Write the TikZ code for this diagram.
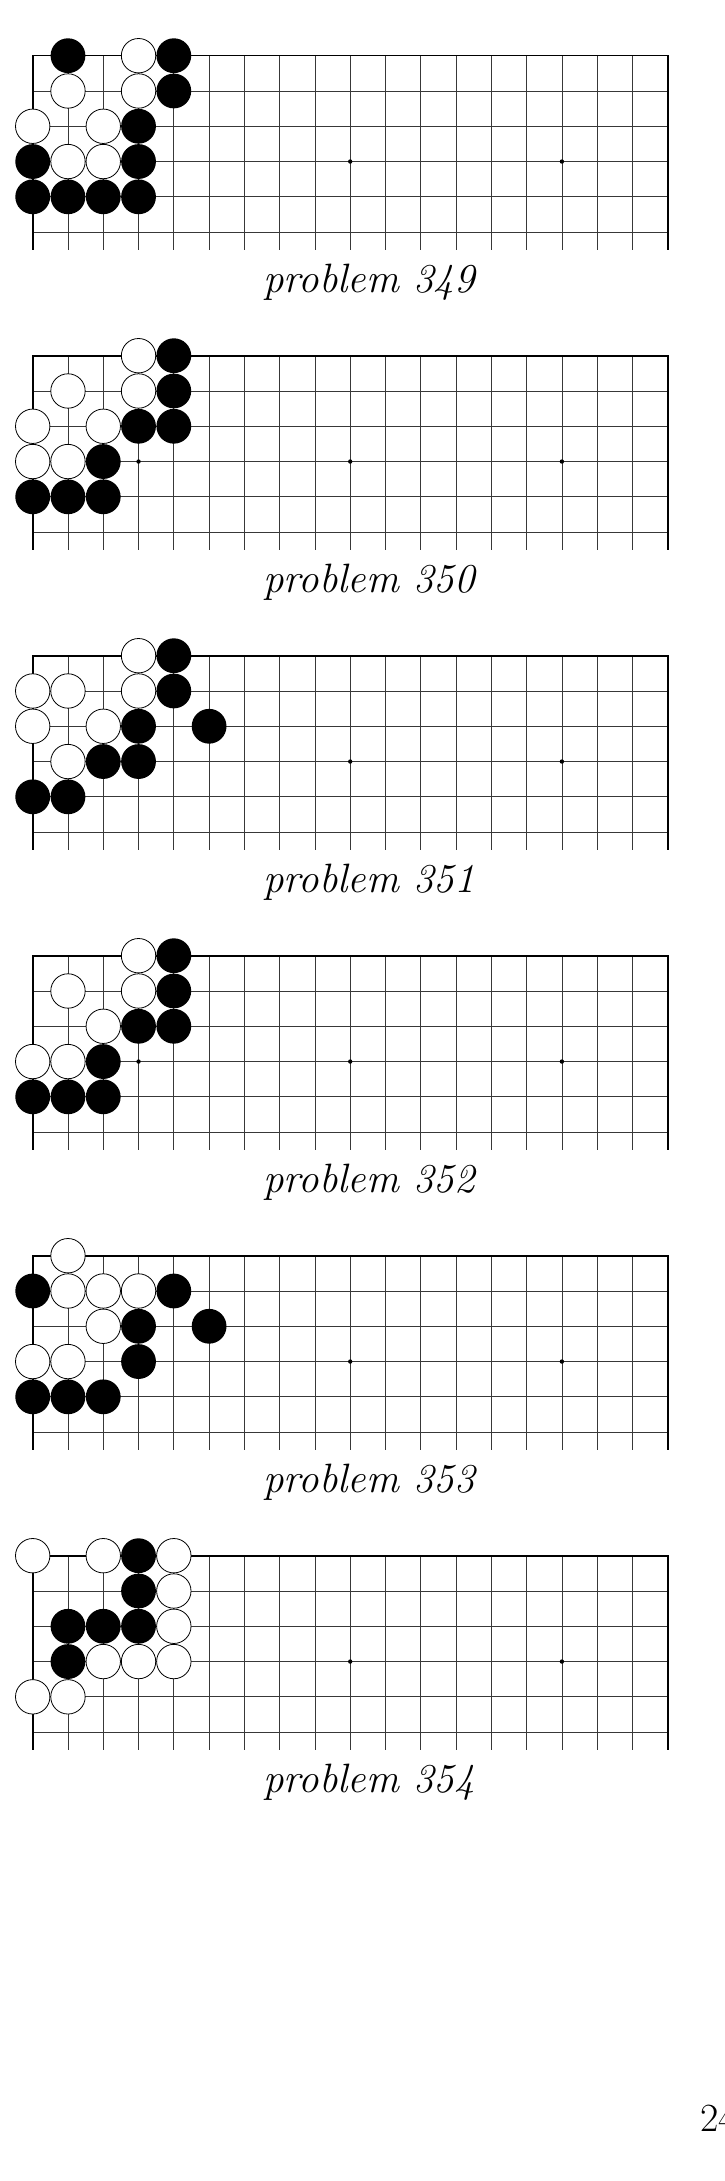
\documentclass[tikz,border=0pt]{standalone}
\tikzset{
  gridline/.style={line width=0.8pt, draw=black!78},
  edgeline/.style={line width=1.6pt, draw=black, line join=miter},
  bstone/.style={fill=black},
  wstone/.style={fill=white, draw=black, line width=0.8pt},
  stardot/.style={fill=black},
  caption/.style={font=\fontsize{41}{48}\selectfont\itshape, anchor=base, inner sep=0pt},
}
\newcommand\gsp{35.28}
\newcommand\goboard[4]{% #1 y of top edge, #2 black stones, #3 white stones, #4 problem number
  \begin{scope}[shift={(32.7,#1)}]
    \foreach \r in {1,...,5} \draw[gridline] (0,\r*\gsp) -- (18*\gsp,\r*\gsp);
    \foreach \c in {1,...,17} \draw[gridline] (\c*\gsp,0) -- (\c*\gsp,5.5*\gsp);
    \draw[edgeline] (0,5.5*\gsp) -- (0,0) -- (18*\gsp,0) -- (18*\gsp,5.5*\gsp);
    \foreach \c in {3,9,15} \fill[stardot] (\c*\gsp,3*\gsp) circle[radius=2.2pt];
    \foreach \c/\r in {#2} \fill[bstone] (\c*\gsp,\r*\gsp) circle[radius=17.4pt];
    \foreach \c/\r in {#3} \draw[wstone] (\c*\gsp,\r*\gsp) circle[radius=17.2pt];
  \end{scope}
  \node[caption] (cap#4) at (369,#1+236.3) {problem #4};
}
\begin{document}
\begin{tikzpicture}[x=1pt,y=-1pt]
\useasboundingbox (0,0) rectangle (724,2181);
% problem 349
\goboard{55.7}{1/0,4/0,4/1,3/2,0/3,3/3,0/4,1/4,2/4,3/4}{3/0,1/1,3/1,0/2,2/2,1/3,2/3}{349}
% problem 350
\goboard{355.7}{4/0,4/1,3/2,4/2,2/3,0/4,1/4,2/4}{3/0,1/1,3/1,0/2,2/2,0/3,1/3}{350}
% problem 351
\goboard{655.7}{4/0,4/1,3/2,5/2,2/3,3/3,0/4,1/4}{3/0,0/1,1/1,3/1,0/2,2/2,1/3}{351}
% problem 352
\goboard{955.7}{4/0,4/1,3/2,4/2,2/3,0/4,1/4,2/4}{3/0,1/1,3/1,2/2,0/3,1/3}{352}
% problem 353
\goboard{1255.7}{0/1,4/1,3/2,5/2,3/3,0/4,1/4,2/4}{1/0,1/1,2/1,3/1,2/2,0/3,1/3}{353}
% problem 354
\goboard{1555.7}{3/0,3/1,1/2,2/2,3/2,1/3}{0/0,2/0,4/0,4/1,4/2,2/3,3/3,4/3,0/4,1/4}{354}
\node[font=\fontsize{40}{48}\selectfont, anchor=base west, inner sep=0pt] (pagenum) at (700,2131) {24};
\end{tikzpicture}
\end{document}
